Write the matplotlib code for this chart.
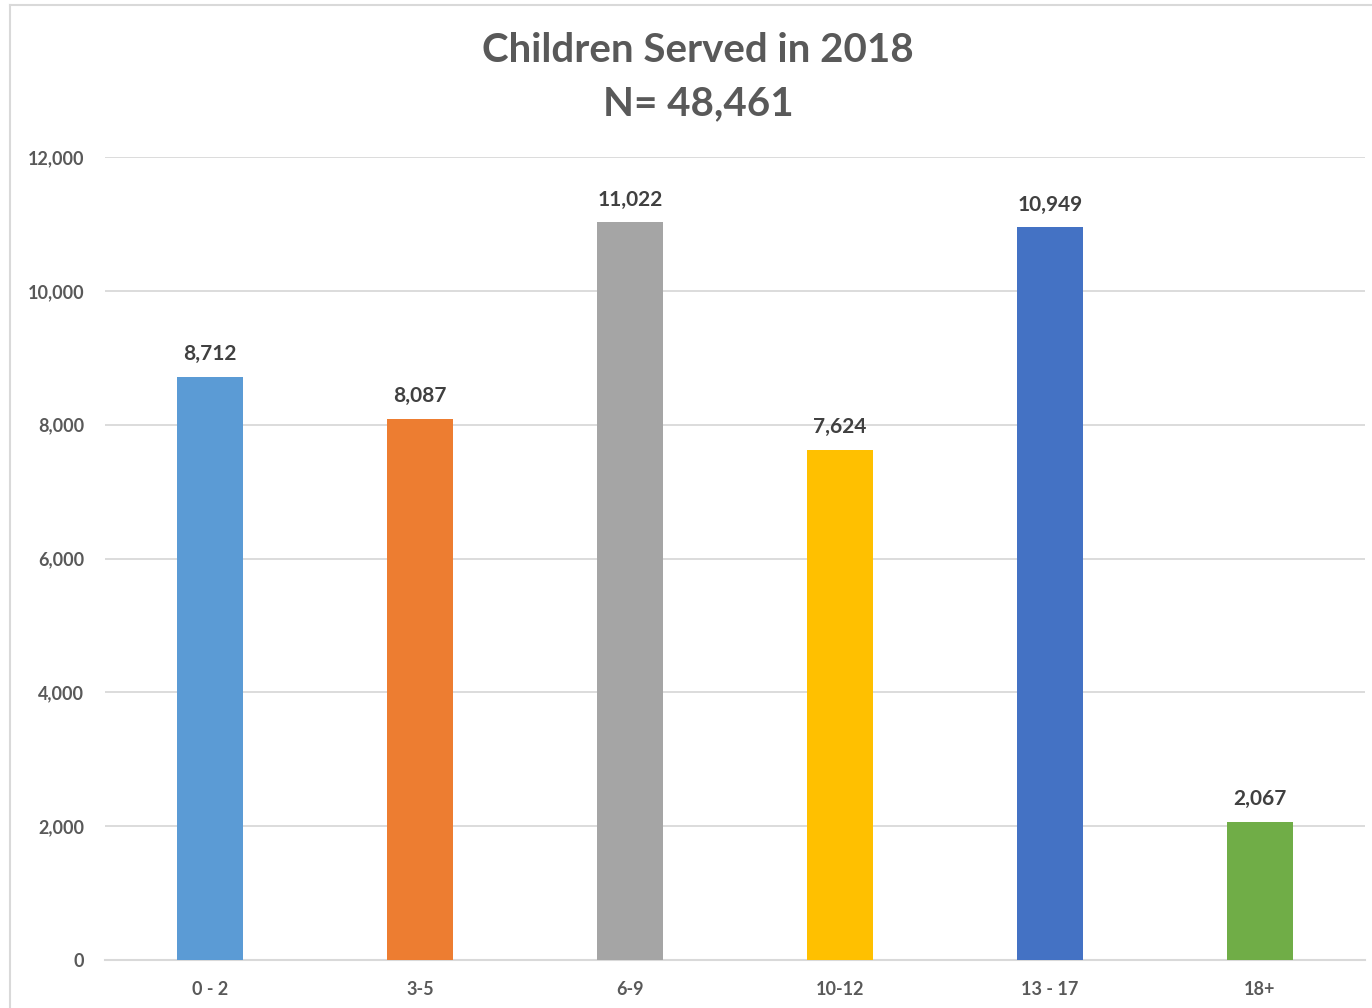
import matplotlib.pyplot as plt
from matplotlib.lines import Line2D

plt.rcParams['font.family'] = ['Lato', 'DejaVu Sans']

# data
age_groups = ['0 - 2', '3-5', '6-9', '10-12', '13 - 17', '18+']
children = [8712, 8087, 11022, 7624, 10949, 2067]
bar_colors = ['#5B9BD5', '#ED7D31', '#A5A5A5', '#FFC000', '#4472C4', '#70AD47']
y_ticks = [0, 2000, 4000, 6000, 8000, 10000, 12000]

fig = plt.figure(figsize=(13.72, 10.08), dpi=100)
ax = fig.add_axes([105/1372, 48/1008, 1260/1372, 803/1008])

x = range(len(age_groups))
bars = ax.bar(x, children, width=0.31, color=bar_colors, zorder=3)

# value labels
for b, v in zip(bars, children):
    ax.text(b.get_x() + b.get_width()/2, v + 190, f'{v:,}', ha='center', va='bottom',
            fontsize=15, fontweight='bold', color='#404040')

ax.set_xlim(-0.5, len(age_groups) - 0.5)
ax.set_ylim(0, 12000)
ax.set_yticks(y_ticks)
ax.set_yticklabels([f'{t:,}' for t in y_ticks])
ax.set_xticks(list(x))
ax.set_xticklabels(age_groups)
ax.grid(axis='y', color='#D9D9D9', linewidth=1.3, zorder=0)
ax.tick_params(axis='both', length=0, labelsize=13, colors='#595959')
ax.tick_params(axis='x', pad=15)
ax.tick_params(axis='y', pad=15)
for lab in ax.get_xticklabels() + ax.get_yticklabels():
    lab.set_fontweight('bold')
for s in ['top', 'right', 'left']:
    ax.spines[s].set_visible(False)
ax.spines['bottom'].set_color('#D9D9D9')
ax.spines['bottom'].set_linewidth(1.5)

fig.text(698/1372, 1 - 50/1008, 'Children Served in 2018', ha='center', va='center',
         fontsize=29, fontweight='bold', color='#595959')
fig.text(698/1372, 1 - 104/1008, 'N= 48,461', ha='center', va='center',
         fontsize=29, fontweight='bold', color='#595959')

# chart border (left and top edges)
fig.add_artist(Line2D([10/1372, 10/1372], [0, 1 - 5/1008], color='#D9D9D9', linewidth=1.5))
fig.add_artist(Line2D([10/1372, 1], [1 - 5/1008, 1 - 5/1008], color='#D9D9D9', linewidth=1.5))

fig.savefig('out.png')
